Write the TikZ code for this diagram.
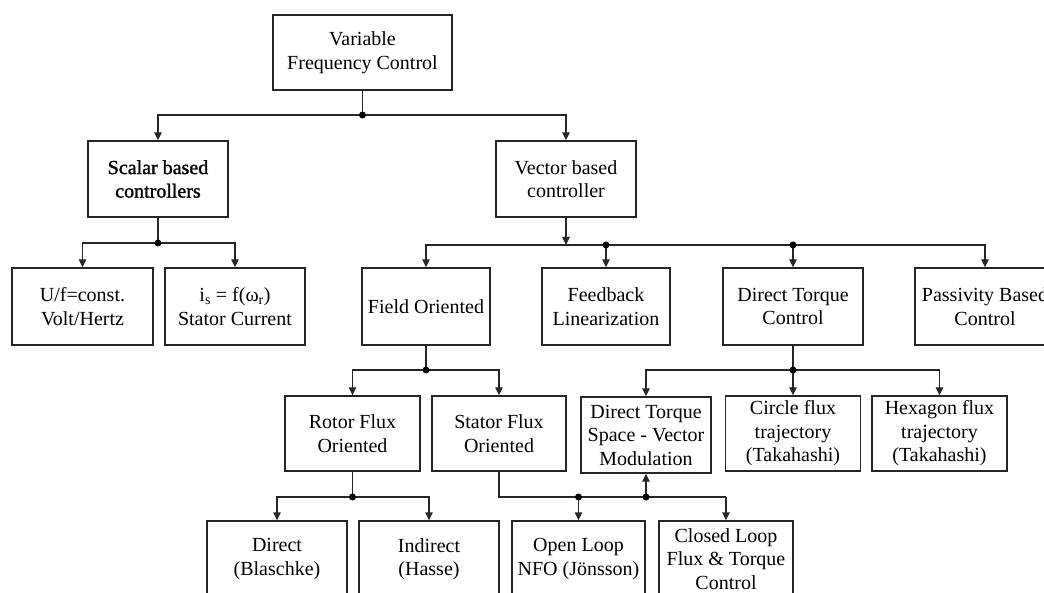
\documentclass[tikz,border=0pt]{standalone}
\usepackage{fontspec}
\setmainfont{Liberation Serif}
\newfontfamily\fakeboldfont{Liberation Serif}[FakeBold=1.3]
\usetikzlibrary{arrows.meta}
\tikzset{
  box/.style={draw=black!85, line width=1.4pt, rectangle, inner sep=0pt, align=center,
    font=\fontsize{20}{23.5}\selectfont, minimum height=76pt},
  conn/.style={draw=black!85, line width=1.4pt},
  arr/.style={conn, -{Triangle[length=8pt,width=7.5pt]}},
  jdot/.style={circle, fill=black, inner sep=0pt, minimum size=7pt}
}
\begin{document}
\begin{tikzpicture}[x=1pt,y=-1pt]
\useasboundingbox (0,0) rectangle (1044,593);
\clip (0,0) rectangle (1044,593);
% nodes
\node[box, minimum width=179pt, minimum height=75pt] (vfc) at (362.5,52.5) {Variable\\Frequency Control};
\node[box, minimum width=140pt] (scalar) at (158,179) {\fakeboldfont Scalar based\\\fakeboldfont controllers};
\node[box, minimum width=140pt] (vector) at (566,179) {Vector based\\controller};
\node[box, minimum width=141pt, minimum height=77pt] (uf) at (82.5,306.5) {U/f=const.\\Volt/Hertz};
\node[box, minimum width=140pt, minimum height=77pt] (is) at (235,306.5) {i\textsubscript{s} = f(ω\textsubscript{r})\\Stator Current};
\node[box, minimum width=128pt, minimum height=77pt] (field) at (426,306.5) {Field Oriented};
\node[box, minimum width=128pt, minimum height=77pt] (feedback) at (606,306.5) {Feedback\\Linearization};
\node[box, minimum width=140pt, minimum height=77pt] (dtc) at (793,306.5) {Direct Torque\\Control};
\node[box, minimum width=140pt, minimum height=77pt] (passivity) at (985,306.5) {Passivity Based\\Control};
\node[box, minimum width=135pt, minimum height=75pt] (rotor) at (352.5,433.5) {Rotor Flux\\Oriented};
\node[box, minimum width=134pt, minimum height=75pt] (stator) at (499,433.5) {Stator Flux\\Oriented};
\node[box, minimum width=130pt, minimum height=76pt] (dtsvm) at (646,435) {Direct Torque\\Space - Vector\\Modulation};
\node[box, minimum width=135pt, minimum height=75pt] (circle) at (793,433.5) {Circle flux\\trajectory\\(Takahashi)};
\node[box, minimum width=135pt, minimum height=75pt] (hexagon) at (939.5,433.5) {Hexagon flux\\trajectory\\(Takahashi)};
\node[box, minimum width=140pt] (direct) at (277,559) {Direct\\(Blaschke)};
\node[box, minimum width=140pt] (indirect) at (429,559) {Indirect\\(Hasse)};
\node[box, minimum width=133pt] (openloop) at (578.5,559) {Open Loop\\NFO (Jönsson)};
\node[box, minimum width=134pt] (closedloop) at (726,559) {Closed Loop\\Flux \& Torque\\Control};
% junction coordinates
\coordinate (j1) at (362.5,115);
\coordinate (j2) at (158,243);
\coordinate (vj) at (566,245);
\coordinate (jfb) at (606,245);
\coordinate (jdtc) at (793,245);
\coordinate (j3) at (426,370);
\coordinate (j4) at (793,370);
\coordinate (j5) at (352.5,497);
\coordinate (j6) at (499,497);
\coordinate (jol) at (578.5,497);
\coordinate (jsv) at (646,497);
\coordinate (jcl) at (726,497);
% connectors
\draw[conn] (vfc.south) -- (j1);
\draw[arr] (j1) -| (scalar.north);
\draw[arr] (j1) -| (vector.north);
\draw[conn] (scalar.south) -- (j2);
\draw[arr] (j2) -| (uf.north);
\draw[arr] (j2) -| (is.north);
\draw[arr] (vector.south) -- (vj);
\draw[arr] (vj) -| (field.north);
\draw[arr] (vj) -| (passivity.north);
\draw[arr] (jfb) -- (feedback.north);
\draw[arr] (jdtc) -- (dtc.north);
\draw[conn] (field.south) -- (j3);
\draw[arr] (j3) -| (rotor.north);
\draw[arr] (j3) -| (stator.north);
\draw[conn] (dtc.south) -- (j4);
\draw[arr] (j4) -| (dtsvm.north);
\draw[arr] (j4) -| (hexagon.north);
\draw[arr] (j4) -- (circle.north);
\draw[conn] (rotor.south) -- (j5);
\draw[arr] (j5) -| (direct.north);
\draw[arr] (j5) -| (indirect.north);
\draw[conn] (stator.south) -- (j6) -- (jcl);
\draw[arr] (jcl) -- (closedloop.north);
\draw[arr] (jol) -- (openloop.north);
\draw[arr] (jsv) -- (dtsvm.south);
% dots
\foreach \p in {j1,j2,jfb,jdtc,j3,j4,j5,jol,jsv} \node[jdot] at (\p) {};
\end{tikzpicture}
\end{document}
